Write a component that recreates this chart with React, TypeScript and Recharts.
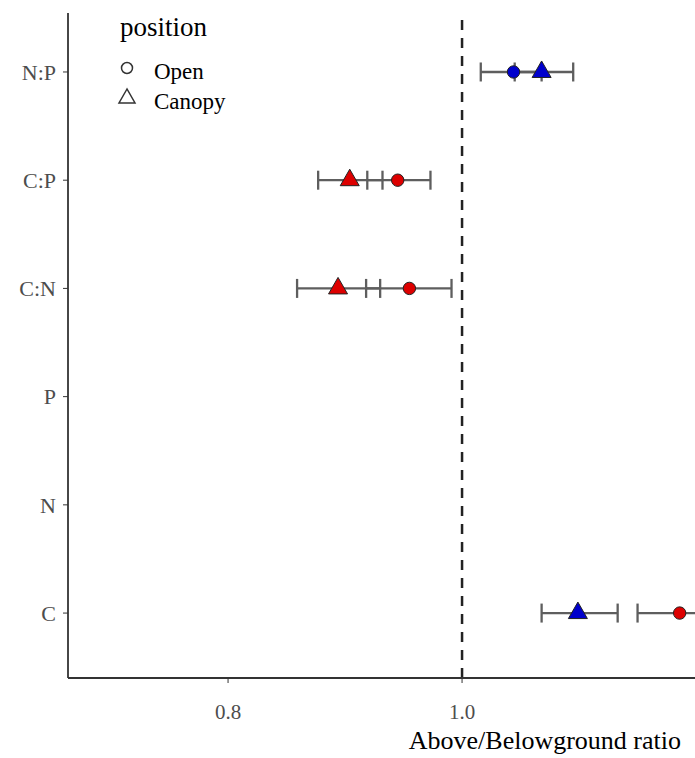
import React from "react";
import {
  ErrorBar,
  ReferenceLine,
  Scatter,
  ScatterChart,
  XAxis,
  YAxis,
} from "recharts";

// trait order from bottom to top of the y axis
const traits = ["C", "N", "P", "C:N", "C:P", "N:P"];

// Open position
const openMean = [1.186, null, null, 0.955, 0.945, 1.044];
const openLow = [1.15, null, null, 0.918, 0.919, 1.016];
const openHigh = [1.222, null, null, 0.991, 0.973, 1.068];
const openGroup = ["a", null, null, "a", "a", "b"];

// Canopy position
const canopyMean = [1.099, null, null, 0.894, 0.904, 1.068];
const canopyLow = [1.068, null, null, 0.859, 0.877, 1.045];
const canopyHigh = [1.133, null, null, 0.93, 0.932, 1.095];
const canopyGroup = ["b", null, null, "a", "a", "b"];

const xTicks = [0.8, 1.0];

const groupFill: Record<string, string> = { a: "#dd0000", b: "#0000cc" };

const FONT = "'Liberation Serif', 'Times New Roman', serif";

type Row = { trait: string; y: number; x: number; err: number[]; group: string };

const buildRows = (
  mean: (number | null)[],
  low: (number | null)[],
  high: (number | null)[],
  group: (string | null)[]
): Row[] =>
  traits.flatMap((t, i) => {
    const m = mean[i];
    if (m == null) return [];
    return [
      {
        trait: t,
        y: i + 1,
        x: m,
        err: [m - (low[i] as number), (high[i] as number) - m],
        group: group[i] as string,
      },
    ];
  });

const openRows = buildRows(openMean, openLow, openHigh, openGroup);
const canopyRows = buildRows(canopyMean, canopyLow, canopyHigh, canopyGroup);

const CircleShape = (props: any) => {
  const { cx, cy, payload } = props;
  return (
    <circle cx={cx} cy={cy} r={6.2} fill={groupFill[payload.group]} stroke="#222" strokeWidth={1} />
  );
};

const TriangleShape = (props: any) => {
  const { cx, cy, payload } = props;
  const s = 9.5;
  return (
    <polygon
      points={`${cx},${cy - 11} ${cx - s},${cy + 5.5} ${cx + s},${cy + 5.5}`}
      fill={groupFill[payload.group]}
      stroke="#222"
      strokeWidth={1}
    />
  );
};

const Nothing = () => <g />;

const App = () => {
  const tickStyle = { fill: "#4d4d4d", fontSize: 21, fontFamily: FONT };
  return (
    <div
      style={{
        position: "absolute",
        left: 0,
        top: 0,
        width: 695,
        height: 758,
        overflow: "hidden",
        background: "#fff",
        fontFamily: FONT,
      }}
    >
      <ScatterChart
        width={695}
        height={758}
        margin={{ top: 13, right: 0, bottom: 0, left: 8 }}
      >
        <XAxis
          type="number"
          dataKey="x"
          domain={[0.6632, 1.1991]}
          allowDataOverflow
          ticks={xTicks}
          tickFormatter={(v: number) => v.toFixed(1)}
          height={80}
          tick={tickStyle}
          tickSize={5}
          tickMargin={21}
          axisLine={{ stroke: "#333", strokeWidth: 1.8 }}
          tickLine={{ stroke: "#333" }}
          label={{
            value: "Above/Belowground ratio",
            position: "insideBottomRight",
            offset: 9,
            dx: -5,
            fill: "#000",
            fontSize: 26,
            fontFamily: FONT,
          }}
        />
        <YAxis
          type="number"
          dataKey="y"
          domain={[0.4, 6.545]}
          allowDataOverflow
          ticks={[1, 2, 3, 4, 5, 6]}
          tickFormatter={(v: number) => traits[v - 1]}
          width={60}
          tick={{ ...tickStyle, fontSize: 22 }}
          tickSize={5}
          tickMargin={7}
          axisLine={{ stroke: "#333", strokeWidth: 1.8 }}
          tickLine={{ stroke: "#333" }}
        />
        <ReferenceLine x={1} stroke="#222" strokeWidth={2.5} strokeDasharray="10 8" />
        <Scatter
          data={[...openRows, ...canopyRows]}
          shape={Nothing}
          isAnimationActive={false}
        >
          <ErrorBar dataKey="err" direction="x" width={9.5} stroke="#5e5e5e" strokeWidth={2.3} />
        </Scatter>
        <Scatter data={openRows} shape={CircleShape} isAnimationActive={false} />
        <Scatter data={canopyRows} shape={TriangleShape} isAnimationActive={false} />
      </ScatterChart>
      <svg
        width={200}
        height={120}
        style={{ position: "absolute", left: 100, top: 0 }}
      >
        <text x={20} y={36} fontSize={27} fill="#000" fontFamily={FONT}>
          position
        </text>
        <circle cx={27} cy={68} r={5.5} fill="none" stroke="#333" strokeWidth={1.5} />
        <text x={54} y={79} fontSize={23} fill="#000" fontFamily={FONT}>
          Open
        </text>
        <polygon points="27,89 19,103 35,103" fill="none" stroke="#333" strokeWidth={1.5} />
        <text x={54} y={109} fontSize={23} fill="#000" fontFamily={FONT}>
          Canopy
        </text>
      </svg>
    </div>
  );
};

export default App;
